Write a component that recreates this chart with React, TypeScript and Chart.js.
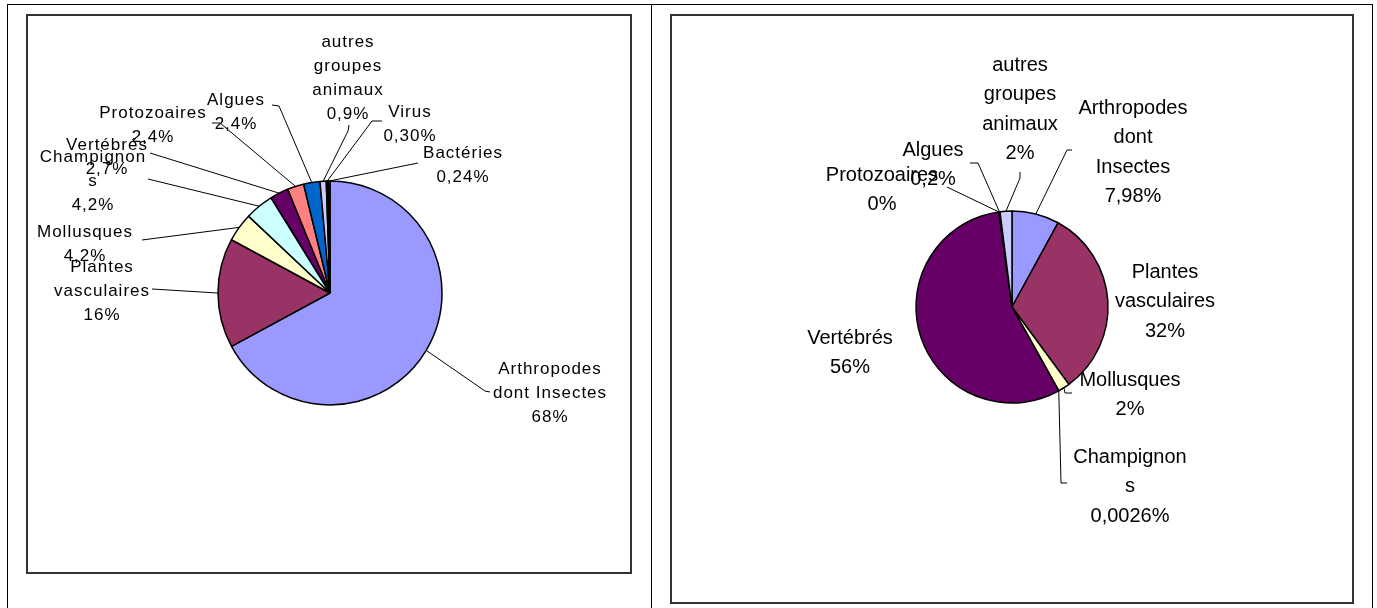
import React, { useEffect, useRef } from "react";
import { Chart, registerables } from "chart.js";

Chart.register(...registerables);

// ---------- DATA ----------
const categories = [
  "Arthropodes dont Insectes",
  "Plantes vasculaires",
  "Mollusques",
  "Champignons",
  "Vertébrés",
  "Protozoaires",
  "Algues",
  "autres groupes animaux",
  "Virus",
  "Bactéries",
];
const sliceColors = [
  "#9999FF",
  "#993366",
  "#FFFFCC",
  "#CCFFFF",
  "#660066",
  "#FF8080",
  "#0066CC",
  "#CCCCFF",
  "#000080",
  "#FF00FF",
];

// Left chart
const leftValues = [68, 16, 4.2, 4.2, 2.7, 2.4, 2.4, 0.9, 0.3, 0.24];
const leftValueLabels = ["68%", "16%", "4,2%", "4,2%", "2,7%", "2,4%", "2,4%", "0,9%", "0,30%", "0,24%"];
const leftNameLines = [
  ["Arthropodes", "dont Insectes"],
  ["Plantes", "vasculaires"],
  ["Mollusques"],
  ["Champignon", "s"],
  ["Vertébrés"],
  ["Protozoaires"],
  ["Algues"],
  ["autres", "groupes", "animaux"],
  ["Virus"],
  ["Bactéries"],
];

// Right chart (first 8 categories)
const rightValues = [7.98, 32, 2, 0.0026, 56, 0, 0.2, 2];
const rightValueLabels = ["7,98%", "32%", "2%", "0,0026%", "56%", "0%", "0,2%", "2%"];
const rightNameLines = [
  ["Arthropodes", "dont", "Insectes"],
  ["Plantes", "vasculaires"],
  ["Mollusques"],
  ["Champignon", "s"],
  ["Vertébrés"],
  ["Protozoaires"],
  ["Algues"],
  ["autres", "groupes", "animaux"],
];

// ---------- LABEL LAYOUT (relative to pie centre, px) ----------
const leftLabelPos: number[][] = [
  [220, 76], [-228, -26], [-245, -61], [-237, -136], [-223, -148],
  [-177, -180], [-94, -193], [18, -251], [80, -181], [133, -140],
];
const leftLeaders: (number[][] | null)[] = [
  [[160, 99], [155, 98]],
  [[-178, -4]],
  [[-188, -53]],
  [[-182, -114]],
  [[-180, -140]],
  [[-118, -170], [-110, -170]],
  [[-58, -188], [-51, -187]],
  [[19, -168], [18, -162]],
  [[52, -172], [42, -172]],
  [[88, -130]],
];
const rightLabelPos: number[][] = [
  [121, -199], [153, -35], [118, 73], [118, 150], [-162, 31],
  [-130, -132], [-79, -157], [8, -242],
];
const rightLeaders: (number[][] | null)[] = [
  [[60, -157], [55, -157]],
  null,
  [[60, 86], [53, 86]],
  [[55, 176], [49, 176]],
  null,
  [[-65, -120]],
  [[-42, -144], [-34, -144]],
  [[8, -135], [8, -129]],
];

const FONT_FAMILY = "'Liberation Sans', Arial, sans-serif";

type LabelCfg = {
  names: string[][];
  values: string[];
  pos: number[][];
  leaders: (number[][] | null)[];
  fontSize: number;
  lineHeight: number;
  letterSpacing: string;
};

function makeLabelPlugin(cfg: LabelCfg) {
  return {
    id: "excelLabels",
    afterDatasetsDraw(chart: any) {
      const ctx = chart.ctx as CanvasRenderingContext2D;
      const meta = chart.getDatasetMeta(0);
      ctx.save();
      meta.data.forEach((arc: any, i: number) => {
        const p = arc.getProps(["x", "y", "startAngle", "endAngle", "outerRadius"], true);
        const mid = (p.startAngle + p.endAngle) / 2;
        const ax = p.x + p.outerRadius * Math.cos(mid);
        const ay = p.y + p.outerRadius * Math.sin(mid);
        const leader = cfg.leaders[i];
        if (leader) {
          ctx.beginPath();
          ctx.strokeStyle = "#000";
          ctx.lineWidth = 1;
          leader.forEach((pt, k) => {
            const px = p.x + pt[0];
            const py = p.y + pt[1];
            if (k === 0) ctx.moveTo(px, py);
            else ctx.lineTo(px, py);
          });
          ctx.lineTo(ax, ay);
          ctx.stroke();
        }
        const lines = [...cfg.names[i], cfg.values[i]];
        const lp = cfg.pos[i];
        ctx.fillStyle = "#000";
        ctx.font = `${cfg.fontSize}px ${FONT_FAMILY}`;
        (ctx as any).letterSpacing = cfg.letterSpacing;
        ctx.textAlign = "center";
        ctx.textBaseline = "middle";
        lines.forEach((t, k) => {
          ctx.fillText(t, p.x + lp[0], p.y + lp[1] + k * cfg.lineHeight);
        });
      });
      ctx.restore();
    },
  };
}

type PieProps = {
  left: number;
  top: number;
  width: number;
  height: number;
  cx: number;
  cy: number;
  r: number;
  values: number[];
  labels: string[];
  colors: string[];
  labelCfg: LabelCfg;
};

const BORDER = 1.5;

function PiePanel(props: PieProps) {
  const ref = useRef<HTMLCanvasElement | null>(null);
  useEffect(() => {
    if (!ref.current) return;
    const S = 2 * props.r + BORDER;
    const padLeft = props.cx - S / 2;
    const padTop = props.cy - S / 2;
    const chart = new Chart(ref.current, {
      type: "pie",
      data: {
        labels: props.labels,
        datasets: [
          {
            data: props.values,
            backgroundColor: props.colors,
            borderColor: "#000",
            borderWidth: BORDER,
            hoverBorderWidth: BORDER,
            hoverOffset: 0,
          },
        ],
      },
      options: {
        animation: false,
        responsive: false,
        maintainAspectRatio: false,
        devicePixelRatio: 1,
        events: [],
        layout: {
          padding: {
            left: padLeft,
            top: padTop,
            right: props.width - padLeft - S,
            bottom: props.height - padTop - S,
          },
        },
        plugins: {
          legend: { display: false },
          tooltip: { enabled: false },
          title: { display: false },
        },
      } as any,
      plugins: [makeLabelPlugin(props.labelCfg) as any],
    });
    return () => chart.destroy();
  }, []);
  return (
    <>
      <canvas
        ref={ref}
        width={props.width}
        height={props.height}
        style={{
          position: "absolute",
          left: props.left,
          top: props.top,
          width: props.width,
          height: props.height,
        }}
      />
      <div
        style={{
          position: "absolute",
          left: props.left,
          top: props.top,
          width: props.width,
          height: props.height,
          border: "2px solid #333",
          boxSizing: "border-box",
          pointerEvents: "none",
        }}
      />
    </>
  );
}

export default function App() {
  return (
    <div
      style={{
        position: "absolute",
        left: 0,
        top: 0,
        width: 1377,
        height: 608,
        overflow: "hidden",
        background: "#fff",
      }}
    >
      <div
        style={{
          position: "absolute",
          left: 7,
          top: 4,
          width: 1366,
          height: 700,
          borderTop: "1px solid #000",
          borderLeft: "1px solid #000",
          borderRight: "1px solid #000",
          boxSizing: "border-box",
        }}
      />
      <div
        style={{
          position: "absolute",
          left: 651,
          top: 4,
          width: 1,
          height: 700,
          background: "#000",
        }}
      />
      <PiePanel
        left={26}
        top={14}
        width={606}
        height={560}
        cx={304}
        cy={279}
        r={112}
        values={leftValues}
        labels={categories}
        colors={sliceColors}
        labelCfg={{
          names: leftNameLines,
          values: leftValueLabels,
          pos: leftLabelPos,
          leaders: leftLeaders,
          fontSize: 17,
          lineHeight: 24,
          letterSpacing: "1px",
        }}
      />
      <PiePanel
        left={670}
        top={14}
        width={684}
        height={590}
        cx={342}
        cy={293}
        r={96}
        values={rightValues}
        labels={categories.slice(0, rightValues.length)}
        colors={sliceColors.slice(0, rightValues.length)}
        labelCfg={{
          names: rightNameLines,
          values: rightValueLabels,
          pos: rightLabelPos,
          leaders: rightLeaders,
          fontSize: 20,
          lineHeight: 29.5,
          letterSpacing: "0px",
        }}
      />
    </div>
  );
}
